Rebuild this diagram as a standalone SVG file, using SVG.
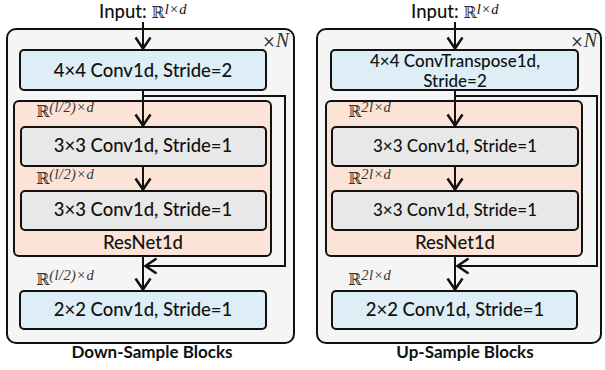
<svg xmlns="http://www.w3.org/2000/svg" width="605" height="370" viewBox="0 0 605 370">
  <defs>
    <style>
      .panel { fill: #f5f5f5; stroke: #111; stroke-width: 2; }
      .blue { fill: #ddeef7; stroke: #111; stroke-width: 2; }
      .gray { fill: #e8e8e8; stroke: #111; stroke-width: 2; }
      .res { fill: #fbe4d7; stroke: #111; stroke-width: 2; }
      .lbl { font-family: Lato, "Open Sans", sans-serif; font-size: 18.5px; font-weight: 500; fill: #111; text-anchor: middle; }
      .lbl-s { font-family: Lato, "Open Sans", sans-serif; font-size: 17px; font-weight: 500; fill: #111; text-anchor: middle; }
      .title { font-family: Lato, "Open Sans", sans-serif; font-size: 17px; font-weight: bold; fill: #111; text-anchor: middle; }
      .math { font-family: "DejaVu Serif", "Liberation Serif", serif; font-size: 16px; fill: #333; }
      .sup { font-family: "Liberation Serif", serif; font-style: italic; font-size: 14.5px; letter-spacing: 0.4px; }
      .wire { fill: none; stroke: #111; stroke-width: 2; }
      .head { fill: none; stroke: #111; stroke-width: 2.5; }
    </style>
    <marker id="arr" viewBox="0 0 14 18" refX="13" refY="9" markerWidth="14" markerHeight="18" markerUnits="userSpaceOnUse" orient="auto">
      <path d="M1.5,1.5 L12.5,9 L1.5,16.5" class="head"/>
    </marker>
  </defs>

  <!-- Down-sample panel -->
  <g id="down-panel">
    <rect class="panel" x="7" y="29" width="287" height="314" rx="9"/>
    <text x="289" y="47" class="math" text-anchor="end" font-size="19">×<tspan font-style="italic" font-family="Liberation Serif" font-size="20">N</tspan></text>
  </g>
  <g id="down-res">
    <rect class="res" x="14" y="101" width="257" height="155" rx="5"/>
    <text x="143" y="249" class="lbl">ResNet1d</text>
  </g>
  <g id="down-conv4">
    <rect class="blue" x="20" y="50" width="246" height="40" rx="4"/>
    <text x="143" y="77" class="lbl">4×4 Conv1d, Stride=2</text>
  </g>
  <g id="down-conv3a">
    <rect class="gray" x="21" y="127" width="245" height="39" rx="4"/>
    <text x="143" y="152" class="lbl">3×3 Conv1d, Stride=1</text>
  </g>
  <g id="down-conv3b">
    <rect class="gray" x="21" y="191" width="245" height="39" rx="4"/>
    <text x="143" y="216" class="lbl">3×3 Conv1d, Stride=1</text>
  </g>
  <g id="down-conv2">
    <rect class="blue" x="20" y="291" width="246" height="38" rx="4"/>
    <text x="143" y="316" class="lbl">2×2 Conv1d, Stride=1</text>
  </g>
  <g id="down-texts">
    <text x="143" y="18" class="lbl" font-size="18">Input: <tspan class="math">ℝ</tspan><tspan class="sup" font-size="14" dy="-4">l×d</tspan></text>
    <text x="36" y="117" class="math">ℝ<tspan class="sup" dy="-5">(l/2)×d</tspan></text>
    <text x="36" y="184" class="math">ℝ<tspan class="sup" dy="-5">(l/2)×d</tspan></text>
    <text x="36" y="285" class="math">ℝ<tspan class="sup" dy="-5">(l/2)×d</tspan></text>
    <text x="152" y="358" class="title">Down-Sample Blocks</text>
  </g>

  <!-- Up-sample panel -->
  <g id="up-panel">
    <rect class="panel" x="317" y="29" width="284" height="314" rx="9"/>
    <text x="597" y="47" class="math" text-anchor="end" font-size="19">×<tspan font-style="italic" font-family="Liberation Serif" font-size="20">N</tspan></text>
  </g>
  <g id="up-res">
    <rect class="res" x="326" y="101" width="256" height="155" rx="5"/>
    <text x="455" y="249" class="lbl">ResNet1d</text>
  </g>
  <g id="up-convT">
    <rect class="blue" x="331" y="50" width="247" height="40" rx="4"/>
    <text x="455" y="67" class="lbl-s">4×4 ConvTranspose1d,</text>
    <text x="455" y="87" class="lbl-s">Stride=2</text>
  </g>
  <g id="up-conv3a">
    <rect class="gray" x="332" y="127" width="246" height="39" rx="4"/>
    <text x="455" y="152" class="lbl-s" font-size="16">3×3 Conv1d, Stride=1</text>
  </g>
  <g id="up-conv3b">
    <rect class="gray" x="332" y="191" width="246" height="39" rx="4"/>
    <text x="455" y="216" class="lbl-s" font-size="16">3×3 Conv1d, Stride=1</text>
  </g>
  <g id="up-conv2">
    <rect class="blue" x="332" y="291" width="245" height="38" rx="4"/>
    <text x="455" y="316" class="lbl">2×2 Conv1d, Stride=1</text>
  </g>
  <g id="up-texts">
    <text x="455" y="18" class="lbl" font-size="18">Input: <tspan class="math">ℝ</tspan><tspan class="sup" font-size="14" dy="-4">l×d</tspan></text>
    <text x="348" y="117" class="math">ℝ<tspan class="sup" dy="-5">2l×d</tspan></text>
    <text x="348" y="184" class="math">ℝ<tspan class="sup" dy="-5">2l×d</tspan></text>
    <text x="348" y="285" class="math">ℝ<tspan class="sup" dy="-5">2l×d</tspan></text>
    <text x="465" y="358" class="title">Up-Sample Blocks</text>
  </g>

  <!-- Connectors -->
  <g id="connectors">
    <!-- down-sample -->
    <line class="wire" x1="143" y1="22" x2="143" y2="49" marker-end="url(#arr)"/>
    <line class="wire" x1="143" y1="91" x2="143" y2="126" marker-end="url(#arr)"/>
    <line class="wire" x1="143" y1="167" x2="143" y2="190" marker-end="url(#arr)"/>
    <line class="wire" x1="143" y1="257" x2="143" y2="290" marker-end="url(#arr)"/>
    <polyline class="wire" points="143,96 285,96 285,266 145,266" marker-end="url(#arr)"/>
    <!-- up-sample -->
    <line class="wire" x1="455" y1="22" x2="455" y2="49" marker-end="url(#arr)"/>
    <line class="wire" x1="455" y1="91" x2="455" y2="126" marker-end="url(#arr)"/>
    <line class="wire" x1="455" y1="167" x2="455" y2="190" marker-end="url(#arr)"/>
    <line class="wire" x1="455" y1="257" x2="455" y2="290" marker-end="url(#arr)"/>
    <polyline class="wire" points="455,96 597,96 597,266 457,266" marker-end="url(#arr)"/>
  </g>
</svg>
